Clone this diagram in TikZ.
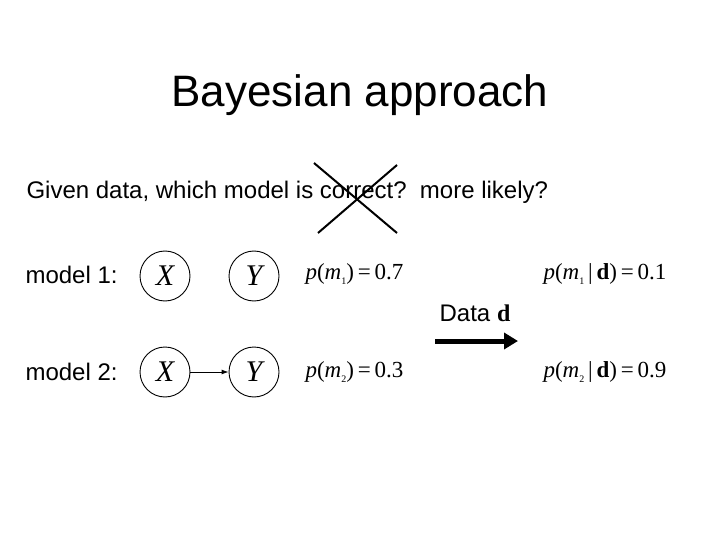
\documentclass[tikz,border=0pt]{standalone}
\usepackage{fontspec}
\setmainfont{Liberation Sans}
\newfontfamily\serifm{Liberation Serif}
\usetikzlibrary{arrows.meta}
\newcommand{\vi}[1]{{\serifm\itshape #1}}
\newcommand{\vn}[1]{{\serifm #1}}
\newcommand{\vb}{{\serifm\bfseries d}}
\newcommand{\sub}[1]{\raisebox{-0.25em}{\fontsize{10}{10}\selectfont\serifm #1}}
\begin{document}
\begin{tikzpicture}[x=1pt,y=-1pt,
  var/.style={circle,draw,line width=0.9pt,minimum size=50pt,inner sep=0pt,font=\serifm\itshape\fontsize{30}{30}\selectfont},
  lab/.style={anchor=west,font=\fontsize{24}{28}\selectfont},
  prob/.style={anchor=west,font=\fontsize{23}{26}\selectfont}]
\useasboundingbox (0,0) rectangle (720,540);
\node (title) at (360,95) {\fontsize{44}{52}\selectfont Bayesian approach};
\node[lab] (q) at (23,192) {Given data, which model is correct?\ \ more likely?};
\coordinate (c1) at (314,163); \coordinate (c2) at (397,233);
\coordinate (c3) at (397,165); \coordinate (c4) at (318,233);
\draw[line width=2pt] (c1) -- (c2); \draw[line width=2pt] (c3) -- (c4);
\node[lab] (m1) at (22,275) {model 1:};
\node[lab] (m2) at (22,372) {model 2:};
\node[var] (x1) at (165,276) {X};
\node[var] (y1) at (254,276) {Y};
\node[var] (x2) at (165,372) {X};
\node[var] (y2) at (254,372) {Y};
\draw[-{Latex[length=7pt,width=5pt]},line width=0.9pt] (x2) -- (y2);
\node[prob] (p1) at (302,274) {\vi{p}\vn{(}\vi{m}\sub{1}\vn{)\,=\,0.7}};
\node[prob] (p2) at (302,372) {\vi{p}\vn{(}\vi{m}\sub{2}\vn{)\,=\,0.3}};
\node[prob] (q1) at (540,274) {\vi{p}\vn{(}\vi{m}\sub{1}\vn{\,|\,}\vb\vn{)\,=\,0.1}};
\node[prob] (q2) at (540,372) {\vi{p}\vn{(}\vi{m}\sub{2}\vn{\,|\,}\vb\vn{)\,=\,0.9}};
\node[lab,anchor=center] (data) at (475,313) {Data \serifm\bfseries d};
\coordinate (a1) at (435,341); \coordinate (a2) at (518,341);
\draw[line width=5pt,-{Triangle[length=14pt,width=16pt]}] (a1) -- (a2);
\end{tikzpicture}
\end{document}
